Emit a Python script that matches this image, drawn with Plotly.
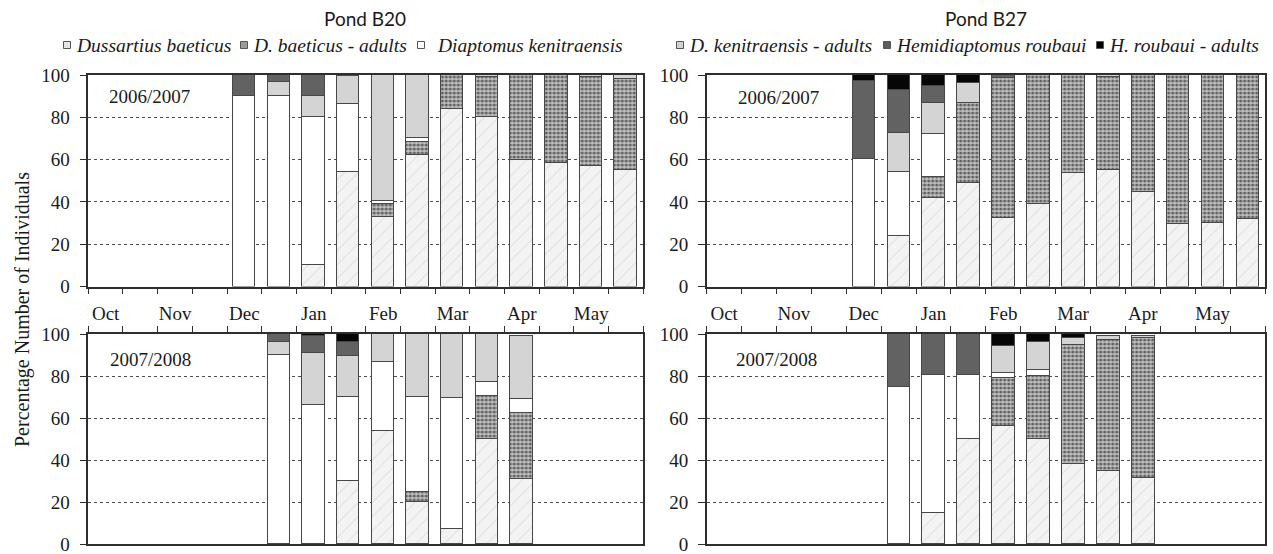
import plotly.graph_objects as go

W, H = 1273, 554

# Month labels sit on every second fortnightly sampling slot (slot 0 = early October)
months = ["Oct", "Nov", "Dec", "Jan", "Feb", "Mar", "Apr", "May"]
month_slots = [0, 2, 4, 6, 8, 10, 12, 14]
n_slots = 16

species = [
    "Dussartius baeticus",
    "D. baeticus - adults",
    "Diaptomus kenitraensis",
    "D. kenitraensis - adults",
    "Hemidiaptomus roubaui",
    "H. roubaui - adults",
]

# ---- Pond B20, 2006/2007 (percentage of individuals) ----
b20_0607_slots = [4, 5, 6, 7, 8, 9, 10, 11, 12, 13, 14, 15]
b20_0607_db = [0, 0, 10, 54, 33, 62, 84, 80, 60, 58.5, 57, 55]
b20_0607_dba = [0, 0, 0, 0, 6, 6.5, 16, 19, 40, 41.5, 42, 43]
b20_0607_dk = [90, 90, 70, 32.5, 1.5, 1.5, 0, 0, 0, 0, 0, 0]
b20_0607_dka = [0, 6.5, 10, 13, 59.5, 30, 0, 1, 0, 0, 1, 2]
b20_0607_hr = [10, 3.5, 10, 0.5, 0, 0, 0, 0, 0, 0, 0, 0]
b20_0607_hra = [0, 0, 0, 0, 0, 0, 0, 0, 0, 0, 0, 0]

# ---- Pond B27, 2006/2007 ----
b27_0607_slots = [4, 5, 6, 7, 8, 9, 10, 11, 12, 13, 14, 15]
b27_0607_db = [0, 24, 42, 49, 32.5, 39, 53.5, 55, 44.5, 29.5, 30, 32]
b27_0607_dba = [0, 0, 10, 38, 66, 61, 46.5, 44, 55.5, 70.5, 70, 68]
b27_0607_dk = [60.5, 30, 20, 0, 0, 0, 0, 0, 0, 0, 0, 0]
b27_0607_dka = [0, 18.5, 15, 9, 0, 0, 0, 1, 0, 0, 0, 0]
b27_0607_hr = [36.5, 20.5, 8, 0, 1.5, 0, 0, 0, 0, 0, 0, 0]
b27_0607_hra = [3, 7, 5, 4, 0, 0, 0, 0, 0, 0, 0, 0]

# ---- Pond B20, 2007/2008 ----
b20_0708_slots = [5, 6, 7, 8, 9, 10, 11, 12]
b20_0708_db = [0, 0, 30, 54, 20, 7, 50, 31]
b20_0708_dba = [0, 0, 0, 0, 5, 0, 20.5, 31.5]
b20_0708_dk = [90, 66, 40, 32.5, 45, 62.5, 6.5, 6.5]
b20_0708_dka = [6, 25, 19.5, 13.5, 30, 30.5, 23, 30]
b20_0708_hr = [4, 8, 6.5, 0, 0, 0, 0, 0]
b20_0708_hra = [0, 1, 4, 0, 0, 0, 0, 0]

# ---- Pond B27, 2007/2008 ----
b27_0708_slots = [5, 6, 7, 8, 9, 10, 11, 12]
b27_0708_db = [0, 15, 50, 56, 50, 38, 35, 31.5]
b27_0708_dba = [0, 0, 0, 23, 30, 57, 62, 66.5]
b27_0708_dk = [75, 65.5, 30.5, 2.5, 3, 0, 0, 0]
b27_0708_dka = [0, 0, 0, 13, 13, 3, 2, 1]
b27_0708_hr = [25, 19.5, 19.5, 0, 0, 0, 0, 0]
b27_0708_hra = [0, 0, 0, 5.5, 4, 2, 0, 0]

panels = [
    dict(x="x", y="y", slots=b20_0607_slots,
         series=[b20_0607_db, b20_0607_dba, b20_0607_dk, b20_0607_dka, b20_0607_hr, b20_0607_hra]),
    dict(x="x2", y="y2", slots=b27_0607_slots,
         series=[b27_0607_db, b27_0607_dba, b27_0607_dk, b27_0607_dka, b27_0607_hr, b27_0607_hra]),
    dict(x="x3", y="y3", slots=b20_0708_slots,
         series=[b20_0708_db, b20_0708_dba, b20_0708_dk, b20_0708_dka, b20_0708_hr, b20_0708_hra]),
    dict(x="x4", y="y4", slots=b27_0708_slots,
         series=[b27_0708_db, b27_0708_dba, b27_0708_dk, b27_0708_dka, b27_0708_hr, b27_0708_hra]),
]

OUTLINE = "#474747"
fills = [
    dict(color="#f1f1f1",
         pattern=dict(shape="/", fgcolor="#dedede", bgcolor="#f3f3f3", size=10,
                      solidity=0.1, fillmode="replace")),
    dict(color="#a8a8a8",
         pattern=dict(shape=".", fgcolor="#626262", bgcolor="#c2c2c2", size=4,
                      solidity=0.5, fillmode="replace")),
    dict(color="#ffffff"),
    dict(color="#d4d4d4"),
    dict(color="#626262"),
    dict(color="#060606"),
]
swatch = ["#e4e4e4", "#9c9c9c", "#ffffff", "#d2d2d2", "#5c5c5c", "#000000"]

fig = go.Figure()
for p in panels:
    for name, vals, fill in zip(species, p["series"], fills):
        fig.add_trace(go.Bar(
            x=p["slots"],
            y=[v if v > 0 else None for v in vals],
            name=name,
            xaxis=p["x"], yaxis=p["y"],
            width=0.65,
            marker=dict(line=dict(color=OUTLINE, width=1.2), **fill),
            showlegend=False,
            hovertemplate=name + ": %{y}%<extra></extra>",
        ))


def px(x):
    return x / W


def py(y):
    return 1 - y / H


SERIF = "Liberation Serif, Times New Roman, serif"
AXC = "#2e2e2e"
tick_font = dict(family=SERIF, size=19, color="#1a1a1a")
boundaries = [i - 0.5 for i in range(n_slots + 1)]

left_dom = [px(88.3), px(643.3)]
right_dom = [px(706.7), px(1265)]
top_dom = [py(286.5), py(75)]
bot_dom = [py(544), py(334)]


def xaxis(domain, anchor, side, labels):
    return dict(
        domain=domain, anchor=anchor, side=side,
        range=[-0.5, n_slots - 0.5], fixedrange=True,
        showline=True, linecolor=AXC, linewidth=1.5, mirror=True,
        showgrid=False, zeroline=False,
        tickmode="array", tickvals=month_slots,
        ticktext=months, showticklabels=labels,
        ticks="", ticklabelstandoff=9,
        tickfont=tick_font,
        minor=dict(tickmode="array", tickvals=boundaries, ticks="outside",
                   ticklen=6, tickwidth=1.3, tickcolor=AXC, showgrid=False),
        automargin=False,
    )


def yaxis(domain, anchor):
    return dict(
        domain=domain, anchor=anchor, range=[0, 100], fixedrange=True,
        tickmode="array", tickvals=[0, 20, 40, 60, 80, 100],
        ticks="outside", ticklen=7, tickwidth=1.3, tickcolor=AXC,
        ticklabelstandoff=6, ticklabeloverflow="allow",
        showline=True, linecolor=AXC, linewidth=1.5, mirror=True,
        showgrid=True, gridcolor="#4d4d4d", gridwidth=1, griddash="dot",
        zeroline=False, tickfont=tick_font, automargin=False,
    )


annotations = []
shapes = []

# season labels inside each panel
for x0, y0, txt in [(107, 96, "2006/2007"), (736, 98, "2006/2007"),
                    (108, 359, "2007/2008"), (734, 359, "2007/2008")]:
    annotations.append(dict(x=px(x0), y=py(y0), xref="paper", yref="paper",
                            text=txt, showarrow=False, xanchor="left", yanchor="middle",
                            font=dict(family=SERIF, size=19, color="#1a1a1a")))

# pond titles
for xc, txt in [(365, "Pond B20"), (986, "Pond B27")]:
    annotations.append(dict(x=px(xc), y=py(18), xref="paper", yref="paper",
                            text=txt, showarrow=False, xanchor="center", yanchor="middle",
                            font=dict(family="Lato", size=19, color="#1a1a1a")))

# shared y-axis title
annotations.append(dict(x=px(22), y=py(310), xref="paper", yref="paper",
                        text="Percentage Number of Individuals", textangle=-90,
                        showarrow=False, xanchor="center", yanchor="middle",
                        font=dict(family=SERIF, size=20, color="#1a1a1a")))

# legend row: swatch centre x and text start x
legend_y = 45
legend_pos = [(67, 74), (244, 251), (421, 435), (680, 687), (887, 894), (1100, 1107)]
for (mx, tx), name, col in zip(legend_pos, species, swatch):
    s = 3.5
    shapes.append(dict(type="rect", xref="paper", yref="paper",
                       x0=px(mx - s), x1=px(mx + s), y0=py(legend_y + s), y1=py(legend_y - s),
                       fillcolor=col, line=dict(color="#555555", width=1)))
    annotations.append(dict(x=px(tx), y=py(legend_y), xref="paper", yref="paper",
                            text="<i>" + name + "</i>", showarrow=False,
                            xanchor="left", yanchor="middle",
                            font=dict(family=SERIF, size=19.5, color="#1a1a1a")))

fig.update_layout(
    width=W, height=H,
    margin=dict(l=0, r=0, t=0, b=0),
    paper_bgcolor="white", plot_bgcolor="white",
    barmode="stack", bargap=0,
    showlegend=False,
    xaxis=xaxis(left_dom, "y", "bottom", True),
    xaxis2=xaxis(right_dom, "y2", "bottom", True),
    xaxis3=xaxis(left_dom, "y3", "top", False),
    xaxis4=xaxis(right_dom, "y4", "top", False),
    yaxis=yaxis(top_dom, "x"),
    yaxis2=yaxis(top_dom, "x2"),
    yaxis3=yaxis(bot_dom, "x3"),
    yaxis4=yaxis(bot_dom, "x4"),
    annotations=annotations,
    shapes=shapes,
)

fig.write_html("out.html")
